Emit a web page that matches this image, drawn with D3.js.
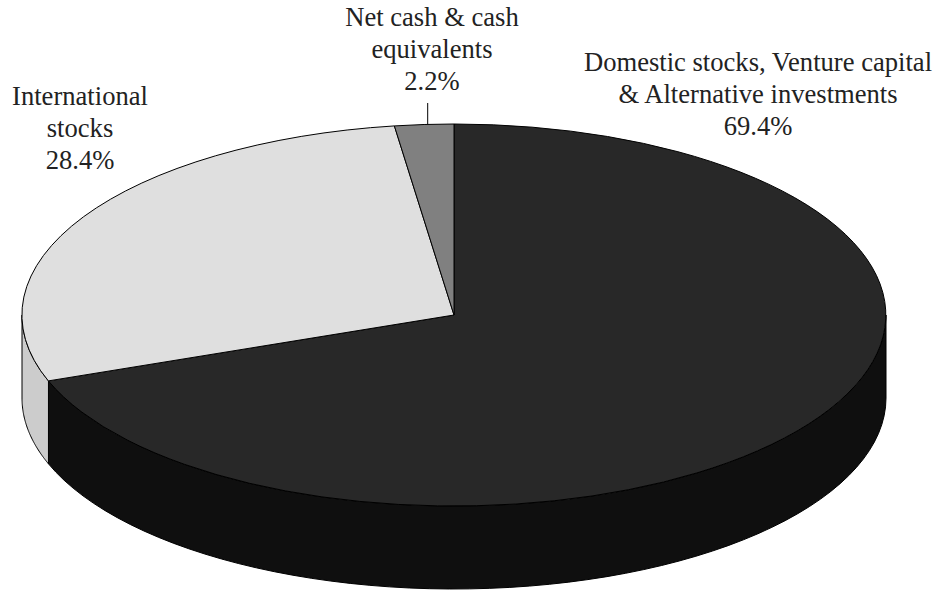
<!DOCTYPE html>
<html><head><meta charset="utf-8">
<script src="https://cdn.jsdelivr.net/npm/d3@7"></script>
<style>html,body{margin:0;padding:0;background:#fff}svg{display:block}
text{font-family:"Liberation Serif",serif;font-size:26.6px;fill:#222;text-anchor:middle}</style>
</head><body><svg width="938" height="590"></svg>
<script>
const categories=["Domestic stocks, Venture capital & Alternative investments","International stocks","Net cash & cash equivalents"];
const values=[69.4,28.4,2.2];
const topColors=["#282828","#dfdfdf","#808080"];
const sideColors=["#0f0f0f","#cccccc","#666666"];
const labelLines=[["Domestic stocks, Venture capital","& Alternative investments","69.4%"],["International","stocks","28.4%"],["Net cash & cash","equivalents","2.2%"]];
const svg=d3.select("svg");
const cx=454,cy=315,rx=432,ry=191,depth=83;
const arcs=d3.pie().sort(null)(values);
const sx=d3.scaleLinear().domain([-1,1]).range([cx-rx,cx+rx]);
const sy=d3.scaleLinear().domain([-1,1]).range([cy-ry,cy+ry]);
const stroke="#000";
arcs.forEach((a,i)=>{
  const s=Math.max(a.startAngle,Math.PI/2),e=Math.min(a.endAngle,Math.PI*1.5);
  if(e<=s)return;
  const ts=d3.range(0,61).map(k=>s+(e-s)*k/60);
  const front=ts.map(t=>[sx(Math.sin(t)),sy(-Math.cos(t))]);
  const back=ts.slice().reverse().map(t=>[sx(Math.sin(t)),sy(-Math.cos(t))+depth]);
  svg.append("path").attr("d",d3.line()(front.concat(back))+"Z")
    .attr("fill",sideColors[i]).attr("stroke",stroke).attr("stroke-width",1);
});
const unit=d3.arc().innerRadius(0).outerRadius(1);
const g=svg.append("g").attr("transform",`translate(${cx},${cy}) scale(${rx},${ry})`);
g.selectAll("path").data(arcs).join("path").attr("d",unit)
  .attr("fill",(d,i)=>topColors[i]).attr("stroke",stroke).attr("stroke-width",1)
  .attr("vector-effect","non-scaling-stroke");
svg.append("line").attr("x1",427.7).attr("y1",103).attr("x2",427.7).attr("y2",124).attr("stroke",stroke);
const pos=[[758,71],[80,105],[432,26]];
labelLines.forEach((ls,i)=>{
  const t=svg.append("text").attr("x",pos[i][0]).attr("y",pos[i][1]);
  ls.forEach((l,j)=>t.append("tspan").attr("x",pos[i][0]).attr("dy",j?32:0).text(l));
});
</script></body></html>
